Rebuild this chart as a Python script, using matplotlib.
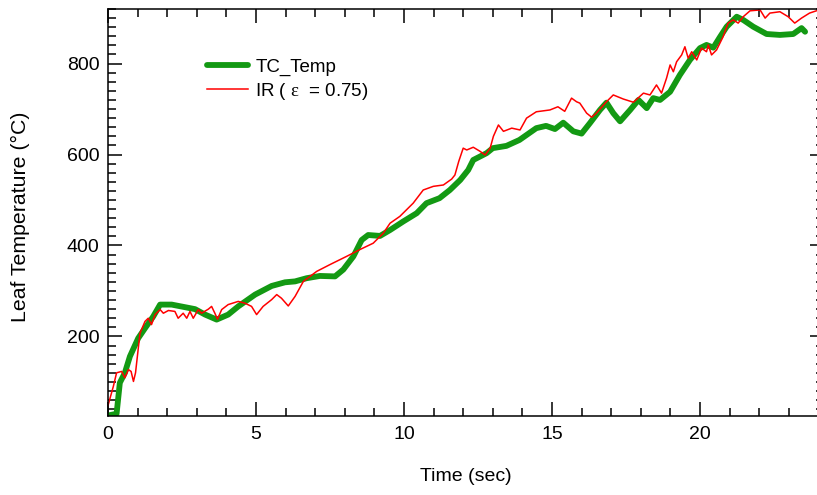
import matplotlib
matplotlib.use('Agg')
import matplotlib.pyplot as plt
from matplotlib.ticker import MultipleLocator

plt.rcParams['font.family'] = ['Liberation Sans', 'DejaVu Sans']
plt.rcParams['mathtext.fontset'] = 'custom'
plt.rcParams['mathtext.rm'] = 'Liberation Serif'

# thermocouple trace
tc_time = [0, 0.29, 0.4, 0.57, 0.74, 1.02, 1.25, 1.53, 1.76, 2.15, 2.94, 3.28, 3.67,
           4.06, 4.4, 4.97, 5.53, 5.98, 6.32, 6.71, 7.16, 7.67, 7.95, 8.29, 8.57,
           8.79, 9.19, 9.53, 9.98, 10.43, 10.76, 11.2, 11.55, 11.9, 12.17, 12.34,
           12.79, 13.0, 13.46, 13.9, 14.47, 14.8, 15.1, 15.38, 15.72, 16.0, 16.28,
           16.62, 16.84, 17.07, 17.3, 17.64, 17.92, 18.2, 18.42, 18.65, 18.99,
           19.32, 19.66, 20.0, 20.22, 20.45, 20.68, 20.9, 21.24, 21.46, 21.8,
           22.25, 22.7, 23.15, 23.43, 23.55]
tc_temp = [26, 30, 98, 120, 156, 196, 218, 244, 270, 270, 260, 248, 237,
           248, 266, 292, 311, 319, 321, 328, 333, 332, 347, 376, 412,
           423, 421, 434, 453, 471, 493, 504, 522, 544, 566, 588,
           603, 614, 619, 632, 658, 663, 656, 670, 651, 646, 669,
           698, 714, 691, 673, 698, 720, 702, 724, 720, 738,
           775, 808, 834, 841, 835, 859, 881, 903, 896, 881,
           865, 863, 865, 878, 870]

# IR pyrometer trace
ir_time = [0, 0.18, 0.29, 0.46, 0.57, 0.69, 0.78, 0.86, 0.93, 1.08, 1.25, 1.36,
           1.47, 1.59, 1.76, 1.87, 2.04, 2.26, 2.37, 2.54, 2.66, 2.77, 2.88,
           3.05, 3.16, 3.39, 3.5, 3.61, 3.7, 3.84, 4.06, 4.4, 4.63, 4.85, 5.02,
           5.24, 5.53, 5.7, 5.86, 6.09, 6.32, 6.6, 7.05, 7.5, 8.06, 8.51, 8.96,
           9.3, 9.53, 9.86, 10.31, 10.65, 10.99, 11.33, 11.61, 11.72, 11.85,
           12.0, 12.12, 12.34, 12.57, 12.74, 12.91, 13.02, 13.19, 13.36, 13.64,
           13.92, 14.14, 14.47, 14.93, 15.2, 15.43, 15.66, 15.83, 15.94, 16.17,
           16.34, 16.5, 16.84, 17.07, 17.41, 17.75, 18.09, 18.31, 18.53, 18.7,
           18.87, 18.99, 19.1, 19.21, 19.38, 19.49, 19.6, 19.72, 19.89, 20.05,
           20.22, 20.28, 20.39, 20.56, 20.78, 20.95, 21.12, 21.29, 21.46, 21.69,
           22.03, 22.2, 22.36, 22.7, 22.98, 23.2, 23.43, 23.7, 23.93]
ir_temp = [48, 90, 120, 123, 109, 127, 123, 101, 120, 207, 233, 240,
           226, 248, 259, 251, 257, 255, 240, 251, 240, 255, 240,
           259, 251, 260, 266, 251, 238, 259, 270, 277, 273, 266, 248,
           266, 281, 292, 284, 267, 288, 321, 343, 358, 376, 391, 405,
           427, 449, 464, 493, 522, 530, 533, 546, 555, 585,
           614, 610, 616, 607, 599, 614, 640, 665, 651, 658,
           654, 680, 694, 698, 705, 695, 724, 716, 713, 691,
           682, 691, 716, 731, 722, 715, 735, 731, 753, 735,
           768, 797, 782, 804, 819, 837, 812, 826, 808, 834,
           826, 841, 819, 830, 859, 889, 896, 889, 903, 916,
           918, 900, 911, 914, 903, 889, 900, 911, 916]

x_range = (0, 24)
y_range = (25, 920)

fig = plt.figure(figsize=(8.17, 4.95), dpi=100)
ax = fig.add_axes([108 / 817, 1 - 416 / 495, 710.4 / 817, 407 / 495])

ax.plot(tc_time, tc_temp, color='#139913', linewidth=4.2, label='TC_Temp',
        solid_capstyle='round', solid_joinstyle='round')
ax.plot(ir_time, ir_temp, color='#ff0000', linewidth=1.1,
        label='IR ( $\\mathrm{\\varepsilon}$  = 0.75)')

ax.set_xlim(*x_range)
ax.set_ylim(*y_range)
ax.xaxis.set_major_locator(MultipleLocator(5))
ax.xaxis.set_minor_locator(MultipleLocator(1))
ax.yaxis.set_major_locator(MultipleLocator(200))
ax.yaxis.set_minor_locator(MultipleLocator(20))

ax.tick_params(which='major', direction='in', length=10, width=1.1,
               top=True, right=True, labelsize=14, color='black')
ax.tick_params(which='minor', direction='in', length=5.5, width=1.1,
               top=True, right=True)
ax.tick_params(axis='x', pad=7)
ax.tick_params(axis='y', pad=6)
# right side ticks are short in the original
for t in ax.yaxis.get_major_ticks():
    t.tick2line.set_markersize(6)
for t in ax.yaxis.get_minor_ticks():
    t.tick2line.set_markersize(1.5)

for s in ax.spines.values():
    s.set_linewidth(1.1)

ax.set_xlabel('Time (sec)', fontsize=14)
ax.set_ylabel('Leaf Temperature (°C)', fontsize=15.3)
ax.xaxis.set_label_coords(0.503, -0.128)
ax.yaxis.set_label_coords(-0.110, 0.49)

ax.legend(loc='upper left', bbox_to_anchor=(0.139, 0.878), frameon=False,
          fontsize=13.5, handlelength=2.2, handletextpad=0.4,
          labelspacing=0.25, borderpad=0, borderaxespad=0)

fig.savefig('out.png', dpi=100)
